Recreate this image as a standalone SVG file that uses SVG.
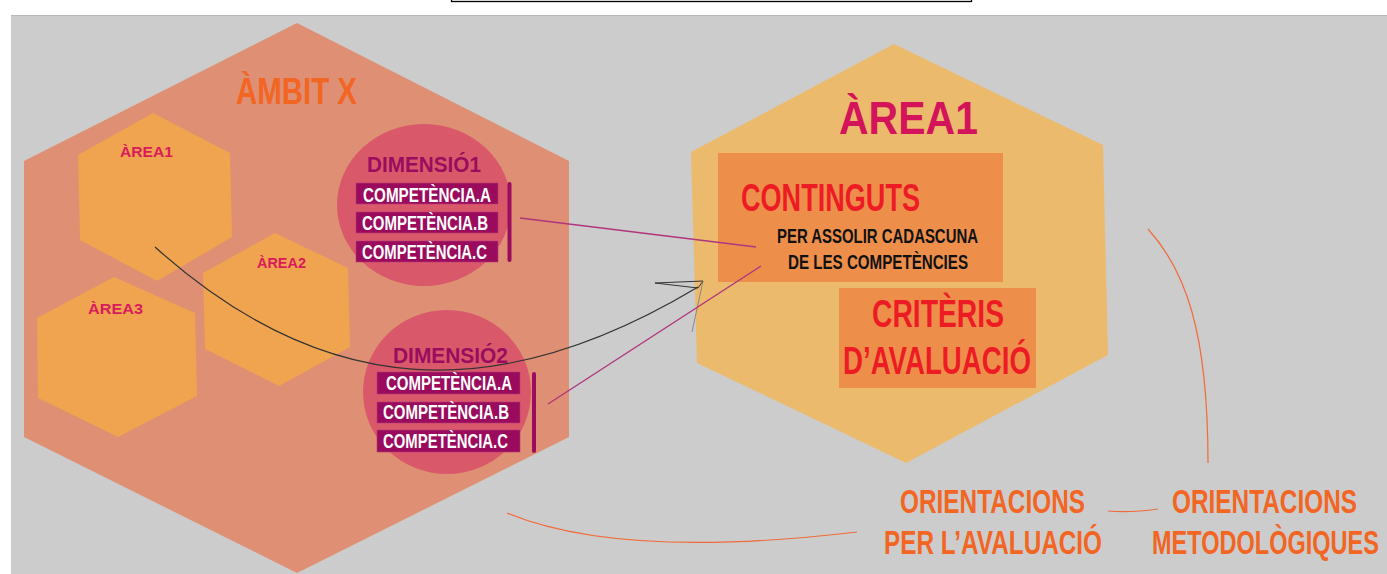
<svg xmlns="http://www.w3.org/2000/svg" width="1387" height="574" viewBox="0 0 1387 574">
<style>
.t{font-family:"Liberation Sans","DejaVu Sans",sans-serif;font-weight:bold;}
.hexS{fill:#f0a44f;}
.lblS{fill:#d91b5c;font-size:10px;}
.dim{fill:#9b0c5f;font-size:16.4px;}
.circ{fill:#d9596a;}
.box{fill:#9b0b5d;stroke:#b8397a;stroke-width:0.6;}
.comp{fill:#ffffff;font-size:13.9px;}
.bar{fill:#9b0c5f;}
.obox{fill:#ed8f4b;}
.red{fill:#ed1c24;font-size:27.1px;}
.blk{fill:#111111;font-size:14.3px;}
.ori{fill:#f26522;font-size:24.3px;}
.orl{fill:none;stroke:#f26a3a;stroke-width:1.2;}
.mag{fill:none;stroke:#b0357f;stroke-width:1.4;}
</style>
<rect x="0" y="0" width="1387" height="574" fill="#ffffff"/>
<rect x="451.5" y="-6" width="520" height="7.5" fill="#ffffff" stroke="#000000" stroke-width="1.3"/>
<rect x="11" y="15" width="1376" height="559" fill="#cccccc"/>
<line x1="11" y1="15.5" x2="1387" y2="15.5" stroke="#b8b8b8" stroke-width="1.2"/>

<g id="ambit">
<polygon points="297,23 569,161 569,437 297,573 24,437 24,161" fill="#df8f73"/>
<text class="t" transform="translate(236,104) scale(1,1.4)" x="0" y="0" font-size="26.8" fill="#f26522" textLength="121" lengthAdjust="spacingAndGlyphs">ÀMBIT X</text>
</g>

<g id="area1-small">
<polygon class="hexS" points="153,113 230,153 232,237 157,281 80,240 78,155"/>
<text class="t lblS" transform="translate(120,157) scale(1,1.4)" x="0" y="0" textLength="53" lengthAdjust="spacingAndGlyphs">ÀREA1</text>
</g>
<g id="area2-small">
<polygon class="hexS" points="275,233 348,268 350,347 279,386 205,349 203,273"/>
<text class="t lblS" transform="translate(257,268) scale(1,1.4)" x="0" y="0" textLength="49" lengthAdjust="spacingAndGlyphs">ÀREA2</text>
</g>
<g id="area3-small">
<polygon class="hexS" points="114,277 195,313 197,396 118,437 38,398 37,318"/>
<text class="t lblS" transform="translate(88,314) scale(1,1.4)" x="0" y="0" textLength="55" lengthAdjust="spacingAndGlyphs">ÀREA3</text>
</g>

<g id="dimensio1">
<ellipse class="circ" cx="424" cy="205" rx="87" ry="81"/>
<text class="t dim" transform="translate(367,172) scale(1,1.4)" x="0" y="0" textLength="114" lengthAdjust="spacingAndGlyphs">DIMENSIÓ1</text>
<rect class="box" x="356" y="183" width="142" height="21"/>
<rect class="box" x="356" y="212" width="142" height="21"/>
<rect class="box" x="356" y="241" width="142" height="21"/>
<text class="t comp" transform="translate(363,202) scale(1,1.4)" x="0" y="0" textLength="128" lengthAdjust="spacingAndGlyphs">COMPETÈNCIA.A</text>
<text class="t comp" transform="translate(362,230) scale(1,1.4)" x="0" y="0" textLength="126" lengthAdjust="spacingAndGlyphs">COMPETÈNCIA.B</text>
<text class="t comp" transform="translate(362,259) scale(1,1.4)" x="0" y="0" textLength="125" lengthAdjust="spacingAndGlyphs">COMPETÈNCIA.C</text>
<rect class="bar" x="507.5" y="182" width="4" height="80" rx="2"/>
</g>

<g id="dimensio2">
<ellipse class="circ" cx="447" cy="392" rx="84" ry="82"/>
<text class="t dim" transform="translate(393,363) scale(1,1.4)" x="0" y="0" textLength="115" lengthAdjust="spacingAndGlyphs">DIMENSIÓ2</text>
<rect class="box" x="377" y="372" width="143" height="22"/>
<rect class="box" x="377" y="402" width="143" height="21"/>
<rect class="box" x="377" y="430" width="143" height="22"/>
<text class="t comp" transform="translate(386,390) scale(1,1.4)" x="0" y="0" textLength="126" lengthAdjust="spacingAndGlyphs">COMPETÈNCIA.A</text>
<text class="t comp" transform="translate(383,419) scale(1,1.4)" x="0" y="0" textLength="126" lengthAdjust="spacingAndGlyphs">COMPETÈNCIA.B</text>
<text class="t comp" transform="translate(383,448) scale(1,1.4)" x="0" y="0" textLength="125" lengthAdjust="spacingAndGlyphs">COMPETÈNCIA.C</text>
<rect class="bar" x="532" y="372" width="4" height="81" rx="2"/>
</g>

<g id="area1-detail">
<polygon points="894,44 1103,145 1108,355 906,463 697,363 691,152" fill="#ecba6c"/>
<text class="t" transform="translate(839,134) scale(1,1.4)" x="0" y="0" font-size="32.9" fill="#d4145a" textLength="139" lengthAdjust="spacingAndGlyphs">ÀREA1</text>
</g>
<g id="continguts">
<rect class="obox" x="718" y="153" width="285" height="129"/>
<text class="t red" transform="translate(741,211) scale(1,1.4)" x="0" y="0" textLength="179" lengthAdjust="spacingAndGlyphs">CONTINGUTS</text>
<text class="t blk" transform="translate(777,243) scale(1,1.4)" x="0" y="0" textLength="201" lengthAdjust="spacingAndGlyphs">PER ASSOLIR CADASCUNA</text>
<text class="t blk" transform="translate(788,269) scale(1,1.4)" x="0" y="0" textLength="180" lengthAdjust="spacingAndGlyphs">DE LES COMPETÈNCIES</text>
</g>
<g id="criteris">
<rect class="obox" x="839" y="288" width="197" height="100"/>
<text class="t red" transform="translate(872,327) scale(1,1.4)" x="0" y="0" textLength="132" lengthAdjust="spacingAndGlyphs">CRITÈRIS</text>
<text class="t red" transform="translate(843,374) scale(1,1.4)" x="0" y="0" textLength="188" lengthAdjust="spacingAndGlyphs">D’AVALUACIÓ</text>
</g>

<g id="orientacions-avaluacio">
<text class="t ori" transform="translate(900,513) scale(1,1.4)" x="0" y="0" textLength="185" lengthAdjust="spacingAndGlyphs">ORIENTACIONS</text>
<text class="t ori" transform="translate(884,554) scale(1,1.4)" x="0" y="0" textLength="218" lengthAdjust="spacingAndGlyphs">PER L’AVALUACIÓ</text>
</g>
<g id="orientacions-metodologiques">
<text class="t ori" transform="translate(1172,513) scale(1,1.4)" x="0" y="0" textLength="185" lengthAdjust="spacingAndGlyphs">ORIENTACIONS</text>
<text class="t ori" transform="translate(1152,554) scale(1,1.4)" x="0" y="0" textLength="227" lengthAdjust="spacingAndGlyphs">METODOLÒGIQUES</text>
</g>

<g id="connectors">
<path d="M155,247 C325,400 498,407 698,287" fill="none" stroke="#333333" stroke-width="1.2"/>
<path d="M655,283 L703,281 L698,288 Z" fill="none" stroke="#333333" stroke-width="1"/>
<line x1="703" y1="281" x2="692" y2="332" stroke="#777777" stroke-width="0.8"/>
<line class="mag" x1="520" y1="218" x2="756" y2="247"/>
<line class="mag" x1="548" y1="404" x2="761" y2="266"/>
<path class="orl" d="M1148,229 C1185,270 1208,330 1208,463"/>
<path class="orl" d="M1108,511 Q1130,513 1158,509"/>
<path class="orl" d="M507,513 Q620,560 857,532"/>
</g>
</svg>
